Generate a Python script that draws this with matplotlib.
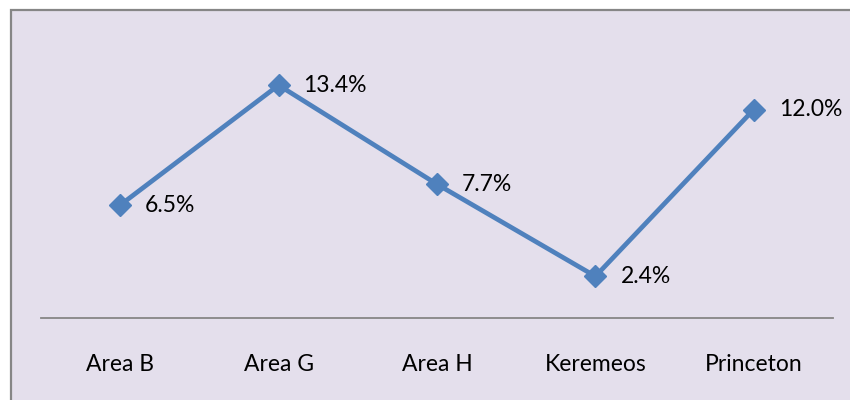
"""
Line chart of rates by area, Excel-style
"""

import matplotlib
matplotlib.use("Agg")
import matplotlib.pyplot as plt
from matplotlib.patches import Rectangle

categories = ["Area B", "Area G", "Area H", "Keremeos", "Princeton"]
rates = [6.5, 13.4, 7.7, 2.4, 12.0]
point_labels = ["6.5%", "13.4%", "7.7%", "2.4%", "12.0%"]

BG = "#E4DFEC"
LINE = "#4F81BD"
GRAY = "#868686"

plt.rcParams["font.family"] = ["Lato", "DejaVu Sans"]

W, H = 850, 400
fig = plt.figure(figsize=(W / 100, H / 100), dpi=100)
fig.patch.set_facecolor("white")

# chart area (cropped at right and bottom in the reference)
fig.add_artist(Rectangle((11 / W, -0.05), 1.1, (H - 10) / H + 0.05,
                         transform=fig.transFigure, facecolor=BG,
                         edgecolor=GRAY, linewidth=1.6, zorder=-1))

ax = fig.add_axes([41 / W, (H - 318) / H, (833 - 41) / W, (318 - 40) / H])
ax.set_facecolor("none")
ax.set_zorder(1)

x = list(range(len(categories)))
ax.plot(x, rates, color=LINE, linewidth=3.4, marker="D", markersize=11.5,
        markerfacecolor=LINE, markeredgecolor=LINE, zorder=3)

for xi, yi, lab in zip(x, rates, point_labels):
    ax.annotate(lab, (xi, yi), xytext=(18, 0), textcoords="offset points",
                ha="left", va="center", fontsize=16.5, color="black")

ax.set_xlim(-0.5, len(categories) - 0.5)
ax.set_ylim(0, 16)
ax.set_xticks(x)
ax.set_xticklabels(categories, fontsize=16.5)
ax.tick_params(axis="x", length=0, pad=26)
ax.set_yticks([])

for side in ["top", "left", "right"]:
    ax.spines[side].set_visible(False)
ax.spines["bottom"].set_color(GRAY)
ax.spines["bottom"].set_linewidth(1.3)

plt.savefig("out.png", dpi=100)
